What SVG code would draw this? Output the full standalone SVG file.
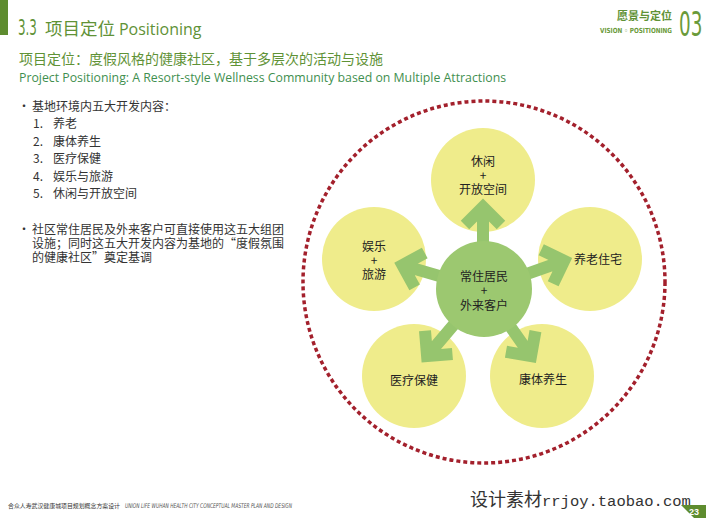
<svg xmlns="http://www.w3.org/2000/svg" width="706" height="524" viewBox="0 0 706 524">
<defs>
<style>
.t{font-family:"Noto Sans CJK SC","Liberation Sans",sans-serif;fill:#333}
.g{font-family:"Noto Sans CJK SC","Liberation Sans",sans-serif;fill:#5f9236}
.cond{font-family:"Liberation Sans Narrow","DejaVu Sans Condensed","Liberation Sans",sans-serif}
.yc{fill:#efec8b}
.lbl{font-family:"Noto Sans CJK SC","Liberation Sans",sans-serif;fill:#222;font-size:12px;text-anchor:middle}
.arr{fill:none;stroke:#96c56e;stroke-width:12;stroke-linejoin:miter;stroke-linecap:butt}
</style>
</defs>
<rect width="706" height="524" fill="#fff"/>

<!-- header -->
<rect x="0" y="0" width="8" height="35" fill="#5e8c2f"/>
<text x="18" y="35" class="g cond" font-size="22" transform="translate(18 35) scale(0.6 1) translate(-18 -35)">3.3</text>
<text x="45" y="35" class="g" font-size="17.5">项目定位 <tspan font-family="'Open Sans','Noto Sans',sans-serif" font-size="16">Positioning</tspan></text>
<text x="19" y="64" class="g" font-size="14" fill="#4f8a2a">项目定位：度假风格的健康社区，基于多层次的活动与设施</text>
<text x="19" y="82" font-family="'Open Sans','Noto Sans',sans-serif" font-size="12.3" fill="#3f8f4f">Project Positioning: A Resort-style Wellness Community based on Multiple Attractions</text>

<text x="672" y="20" class="g" font-size="11" text-anchor="end" font-weight="bold" fill="#6a9a3a">愿景与定位</text>
<text x="600" y="33" class="cond" font-size="7" fill="#6a9a3a" font-weight="bold" textLength="72" lengthAdjust="spacingAndGlyphs">VISION ◦ POSITIONING</text>
<text x="679" y="36" class="cond" font-size="34" fill="#6a9a3a" transform="translate(679 36) scale(0.6 1) translate(-679 -36)">03</text>

<!-- bullet list -->
<g class="t" font-size="12">
<text x="18" y="111" font-size="12">•</text>
<text x="32" y="111">基地环境内五大开发内容：</text>
<text x="33" y="128">1.</text><text x="53" y="128">养老</text>
<text x="33" y="146">2.</text><text x="53" y="146">康体养生</text>
<text x="33" y="163">3.</text><text x="53" y="163">医疗保健</text>
<text x="33" y="181">4.</text><text x="53" y="181">娱乐与旅游</text>
<text x="33" y="198">5.</text><text x="53" y="198">休闲与开放空间</text>
<text x="18" y="234" font-size="12">•</text>
<text x="32" y="234">社区常住居民及外来客户可直接使用这五大组团</text>
<text x="32" y="248">设施；同时这五大开发内容为基地的“度假氛围</text>
<text x="32" y="262">的健康社区”奠定基调</text>
</g>

<!-- diagram -->
<circle cx="484" cy="282" r="181" fill="none" stroke="#a3202c" stroke-width="3.5" stroke-dasharray="4 3"/>

<g id="n-leisure"><circle class="yc" cx="483" cy="180" r="52"/>
<text class="lbl" x="483" y="166">休闲</text><text class="lbl" x="483" y="180">+</text><text class="lbl" x="483" y="194">开放空间</text></g>
<g id="n-ent"><circle class="yc" cx="374" cy="259" r="52"/>
<text class="lbl" x="374" y="251">娱乐</text><text class="lbl" x="374" y="265">+</text><text class="lbl" x="374" y="279">旅游</text></g>
<g id="n-elder"><circle class="yc" cx="590" cy="259" r="52"/>
<text class="lbl" x="598" y="264">养老住宅</text></g>
<g id="n-med"><circle class="yc" cx="414" cy="376" r="52"/>
<text class="lbl" x="414" y="385">医疗保健</text></g>
<g id="n-fit"><circle class="yc" cx="542" cy="376" r="52"/>
<text class="lbl" x="543" y="384">康体养生</text></g>

<g id="connectors">
<path class="arr" d="M0,0 H82 M64,-18 L82,0 L64,18" transform="translate(483 289) rotate(-90)"/>
<path class="arr" d="M0,0 H85 M67,-18 L85,0 L67,18" transform="translate(484 289) rotate(-163.7)"/>
<path class="arr" d="M0,0 H85 M67,-18 L85,0 L67,18" transform="translate(484 289) rotate(-19.4)"/>
<path class="arr" d="M0,0 H88 M70,-18 L88,0 L70,18" transform="translate(484 289) rotate(130.3)"/>
<path class="arr" d="M0,0 H82 M64,-18 L82,0 L64,18" transform="translate(484 289) rotate(55)"/>
</g>

<g id="n-center"><circle cx="484" cy="289" r="48" fill="#9cc870"/>
<text class="lbl" x="484" y="281">常住居民</text><text class="lbl" x="484" y="295">+</text><text class="lbl" x="484" y="310">外来客户</text></g>

<!-- footer -->
<text x="8" y="508" class="t" font-size="6" fill="#444" textLength="112" lengthAdjust="spacingAndGlyphs">合众人寿武汉健康城项目规划概念方案设计</text>
<text x="125" y="508" class="cond" font-size="6.5" fill="#555" font-style="italic" textLength="167" lengthAdjust="spacingAndGlyphs">UNION LIFE WUHAN HEALTH CITY CONCEPTUAL MASTER PLAN AND DESIGN</text>
<text x="470" y="506" font-family="'Noto Sans CJK SC',sans-serif" font-size="18" fill="#333">设计素材<tspan font-family="'Liberation Mono',monospace" font-size="15.5">rrjoy.taobao.com</tspan></text>
<polygon points="681,505 706,505 706,518 694,518" fill="#5e8c2f"/>
<text x="694" y="515" font-family="'Liberation Sans',sans-serif" font-size="9" font-weight="bold" fill="#fff" text-anchor="middle">23</text>
</svg>
